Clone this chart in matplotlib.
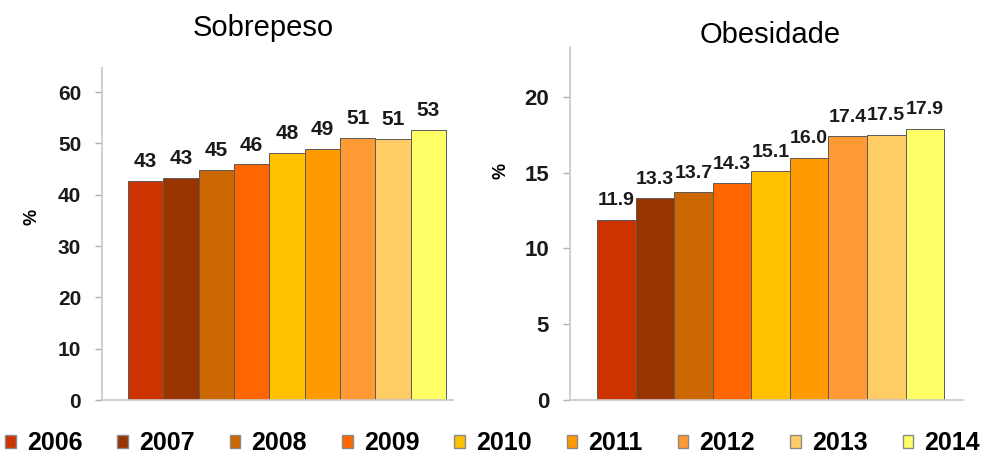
import matplotlib.pyplot as plt
from matplotlib.patches import Patch

years = ["2006", "2007", "2008", "2009", "2010", "2011", "2012", "2013", "2014"]
sobrepeso = [42.7, 43.3, 44.9, 45.9, 48.1, 48.9, 51.0, 50.8, 52.6]
obesidade = [11.9, 13.3, 13.7, 14.3, 15.1, 16.0, 17.4, 17.5, 17.9]

colors = ["#CC3300", "#993300", "#CC6600", "#FF6600", "#FFC000",
          "#FF9900", "#FF9933", "#FFCC66", "#FFFF66"]

plt.rcParams.update({
    "font.family": ["Liberation Sans", "DejaVu Sans"],
    "figure.facecolor": "white",
    "axes.facecolor": "white",
})

fig = plt.figure(figsize=(9.85, 4.57), dpi=100)
ax1 = fig.add_axes([0.1036, 0.1247, 0.3563, 0.7265])
ax2 = fig.add_axes([0.5787, 0.1247, 0.3990, 0.7725])


def draw_panel(ax, values, ylim, yticks, xlim, tick_size, label_size, fmt):
    x = list(range(len(values)))
    ax.bar(x, values, width=1.0, color=colors, edgecolor="#5a5a5a",
           linewidth=0.7, zorder=2)
    for xi, v in zip(x, values):
        ax.text(xi, v + ylim * 0.03, fmt.format(v), ha="center", va="bottom",
                fontsize=label_size, fontweight="bold", color="#1a1a1a")
    ax.set_ylim(0, ylim)
    ax.set_xlim(*xlim)
    ax.set_yticks(yticks)
    ax.set_xticks([])
    for s in ["top", "right"]:
        ax.spines[s].set_visible(False)
    for s in ["left", "bottom"]:
        ax.spines[s].set_color("#c8c8c8")
        ax.spines[s].set_linewidth(1.2)
    ax.tick_params(axis="y", length=5, width=1.0, color="#b0b0b0", pad=10,
                   labelsize=tick_size)
    for lab in ax.get_yticklabels():
        lab.set_fontweight("bold")
        lab.set_color("#1a1a1a")


draw_panel(ax1, sobrepeso, 64.7, range(0, 61, 10), (-1.236, 8.7), 15, 15, "{:.0f}")
draw_panel(ax2, obesidade, 23.3, range(0, 21, 5), (-1.2, 8.99), 16, 14, "{:.1f}")

ax1.set_ylabel("%", fontsize=13, fontweight="bold")
ax1.yaxis.set_label_coords(-0.175, 0.55)
ax2.set_ylabel("%", fontsize=13, fontweight="bold")
ax2.yaxis.set_label_coords(-0.155, 0.65)

fig.text(0.267, 0.939, "Sobrepeso", ha="center", va="center", fontsize=21)
fig.text(0.782, 0.923, "Obesidade", ha="center", va="center", fontsize=21)

handles = [Patch(facecolor=c, edgecolor="#8a8a8a", linewidth=1.0) for c in colors]
leg = fig.legend(handles, years, loc="center", bbox_to_anchor=(0.5, 0.03),
                 ncol=9, frameon=False, borderpad=0.0, borderaxespad=0.0,
                 handlelength=0.42, handleheight=0.42,
                 handletextpad=0.45, columnspacing=1.4,
                 prop={"size": 18, "weight": "bold"})

fig.savefig("out.png", dpi=100)
